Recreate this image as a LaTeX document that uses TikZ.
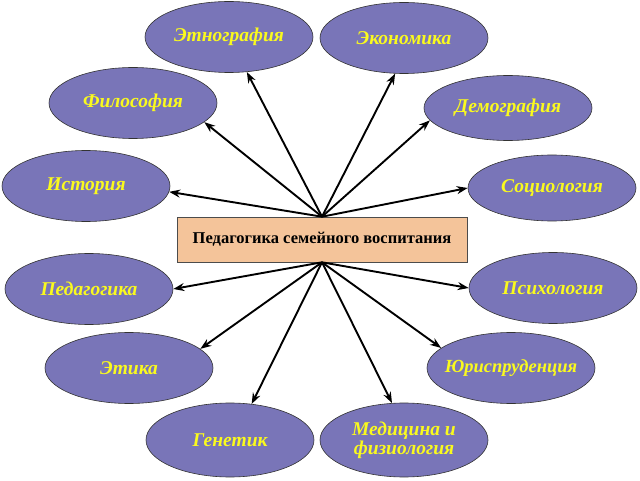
\documentclass[tikz,border=0pt]{standalone}
\usepackage{fontspec}
\setmainfont{Liberation Serif}
\usetikzlibrary{shapes.geometric}
\usetikzlibrary{arrows.meta}

\definecolor{lilac}{RGB}{121,117,184}
\definecolor{peach}{RGB}{244,196,154}
\definecolor{lemon}{RGB}{250,250,30}

\begin{document}
\begin{tikzpicture}[x=1pt,y=1pt,
  field/.style={ellipse, draw=black!80, line width=0.6pt, fill=lilac,
    minimum width=168pt, minimum height=71pt, inner sep=0pt, align=center,
    text=lemon, font=\fontsize{19.5}{19}\selectfont\bfseries\itshape},
  core/.style={draw=black!70, line width=0.6pt, fill=peach,
    minimum width=290pt, minimum height=45pt, inner sep=0pt,
    font=\fontsize{16.5}{17}\selectfont\bfseries},
  link/.style={-{Stealth[length=11pt,width=8pt]}, line width=1.9pt}]
\useasboundingbox (0,0) rectangle (640,480);

\node[core] (C) at (322,240.5) {Педагогика семейного воспитания};

\node[field] (etno) at (229,443) {Этнография};
\node[field] (econ) at (404,442) {Экономика};
\node[field] (filo) at (133,377) {Философия};
\node[field, minimum height=65pt] (demo) at (508,372) {Демография};
\node[field] (hist) at (86,294) {История};
\node[field, minimum height=66pt] (soc) at (552,292) {Социология};
\node[field] (ped) at (89,191) {Педагогика};
\node[field] (psy) at (553,192) {Психология};
\node[field] (eth) at (129,112) {Этика};
\node[field, inner xsep=-16pt, font=\fontsize{18.5}{19}\selectfont\bfseries\itshape] (jur) at (511,112) {Юриспруденция};
\node[field, minimum height=74pt] (gen) at (230,40) {Генетик};
\node[field, minimum height=74pt] (med) at (404,40) {Медицина и\\физиология};

\coordinate (T) at (C.north);
\coordinate (B) at (C.south);

\draw[link] (T) -- (etno.-63);
\draw[link] (T) -- (econ.-104);
\draw[link] (T) -- (filo.-15);
\draw[link] (T) -- (demo.-171);
\draw[link] (T) -- (hist.-4);
\draw[link] (T) -- (soc.west);
\draw[link] (B) -- (ped.east);
\draw[link] (B) -- (psy.west);
\draw[link] (B) -- (eth.15);
\draw[link] (B) -- (jur.164);
\draw[link] (B) -- (gen.59);
\draw[link] (B) -- (med.108);

\end{tikzpicture}
\end{document}
